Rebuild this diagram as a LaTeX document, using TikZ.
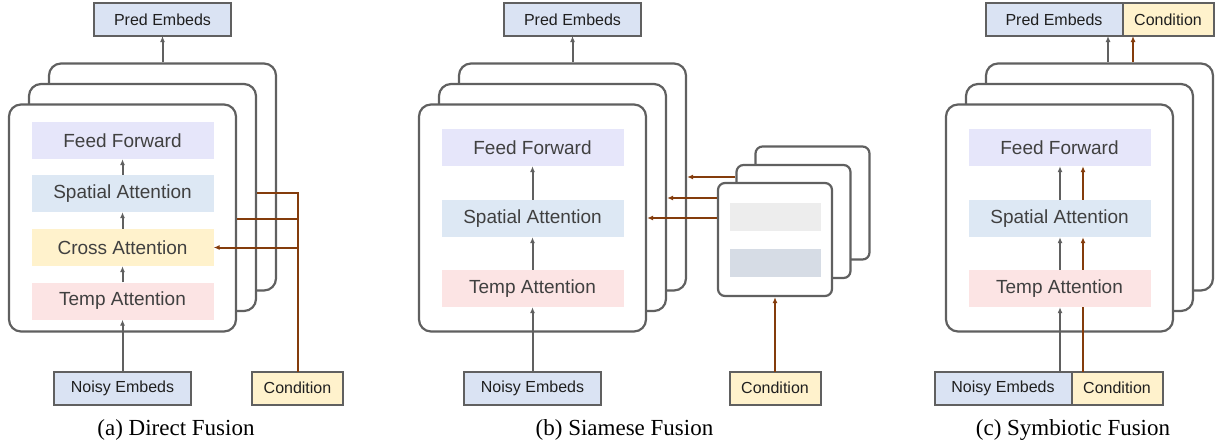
\documentclass[tikz,border=0pt]{standalone}
\usepackage{fontspec}
\setmainfont{Liberation Serif}
\newfontfamily\diagfont{Liberation Sans}
\usepackage{tikz}
\usetikzlibrary{arrows.meta, positioning}

\definecolor{linegray}{HTML}{606060}
\definecolor{condbrown}{HTML}{843C0C}
\definecolor{ffill}{HTML}{E6E6FA}
\definecolor{spfill}{HTML}{DDE8F4}
\definecolor{crfill}{HTML}{FFF2CC}
\definecolor{tpfill}{HTML}{FCE4E4}
\definecolor{embedfill}{HTML}{DAE3F3}
\definecolor{condfill}{HTML}{FFF2CC}
\definecolor{bargray}{HTML}{EDEDED}
\definecolor{barblue}{HTML}{D6DCE5}
\definecolor{blocktext}{HTML}{404040}
\definecolor{boxtext}{HTML}{1F1F1F}

\begin{document}
\begin{tikzpicture}[x=1pt, y=-1pt,
        >={Latex[length=6pt, width=5pt]},
        stacklayer/.style={draw=linegray, line width=2.2pt, fill=white, rounded corners=12pt, minimum width=227pt, minimum height=227pt, inner sep=0pt},
        smalllayer/.style={stacklayer, rounded corners=7pt, minimum width=114pt, minimum height=113pt},
        block/.style={minimum width=182pt, minimum height=37pt, inner sep=0pt, text=blocktext, font=\diagfont\fontsize{19}{21}\selectfont},
        bar/.style={minimum width=91pt, minimum height=28pt, inner sep=0pt},
        embedbox/.style={draw=linegray, line width=2pt, fill=embedfill, outer sep=0pt, minimum width=137pt, minimum height=33pt, inner sep=0pt, text=boxtext, font=\diagfont\fontsize{16}{18}\selectfont},
        condbox/.style={embedbox, fill=condfill, minimum width=91pt},
        flow/.style={->, draw=linegray, line width=2pt},
        condflow/.style={draw=condbrown, line width=2pt},
        subcap/.style={font=\fontsize{23}{25}\selectfont}]
        \useasboundingbox (0, 0) rectangle (1215, 442);

        \node[stacklayer] (a-back) at (162.5, 177) {};
        \node[stacklayer] (a-mid) at (142.5, 197.5) {};
        \node[stacklayer] (a-front) at (122.5, 218) {};
        \node[block, fill=ffill] (a-ff) at (122.5, 140.5) {Feed Forward};
        \node[block, fill=spfill] (a-sp) at (122.5, 193.5) {Spatial Attention};
        \node[block, fill=crfill] (a-cr) at (122.5, 247.5) {Cross Attention};
        \node[block, fill=tpfill] (a-tp) at (122.5, 301) {Temp Attention};
        \node[embedbox] (a-pred) at (162.5, 19.5) {Pred Embeds};
        \node[embedbox] (a-noisy) at (122.5, 388) {Noisy Embeds};
        \node[condbox] (a-cond) at (297.5, 388) {Condition};
        \coordinate (a-j1) at (297.5, 193);
        \coordinate (a-j2) at (297.5, 219);
        \coordinate (a-j3) at (297.5, 247.5);
        \draw[flow] (a-noisy) -- (a-tp);
        \draw[flow] (a-tp) -- (a-cr);
        \draw[flow] (a-cr) -- (a-sp);
        \draw[flow] (a-sp) -- (a-ff);
        \draw[flow] (a-back) -- (a-pred);
        \draw[condflow] (a-cond) -- (a-j1) -- (a-mid.east |- a-j1);
        \draw[condflow] (a-j2) -- (a-front.east |- a-j2);
        \draw[condflow, ->] (a-j3) -- (a-cr);
        \node[subcap] (a-cap) at (176, 430) {(a) Direct Fusion};

        \node[stacklayer] (b-back) at (572.5, 177) {};
        \node[stacklayer] (b-mid) at (552.5, 197.5) {};
        \node[stacklayer] (b-front) at (532.5, 218) {};
        \node[block, fill=ffill] (b-ff) at (532.5, 147.5) {Feed Forward};
        \node[block, fill=spfill] (b-sp) at (532.5, 218.5) {Spatial Attention};
        \node[block, fill=tpfill] (b-tp) at (532.5, 288.5) {Temp Attention};
        \node[embedbox] (b-pred) at (572.5, 19.5) {Pred Embeds};
        \node[embedbox] (b-noisy) at (532.5, 388) {Noisy Embeds};
        \node[condbox] (b-cond) at (775, 388) {Condition};
        \node[smalllayer] (b-sback) at (812.5, 203) {};
        \node[smalllayer] (b-smid) at (793.5, 221.5) {};
        \node[smalllayer] (b-sfront) at (775, 239.5) {};
        \node[bar, fill=bargray] (b-bar1) at (775, 217) {};
        \node[bar, fill=barblue] (b-bar2) at (775, 263) {};
        \draw[flow] (b-noisy) -- (b-tp);
        \draw[flow] (b-tp) -- (b-sp);
        \draw[flow] (b-sp) -- (b-ff);
        \draw[flow] (b-back) -- (b-pred);
        \draw[condflow, ->] (b-smid.west |- 0, 177) -- (b-back.east |- 0, 177);
        \draw[condflow, ->] (b-sfront.west |- 0, 198) -- (b-mid.east |- 0, 198);
        \draw[condflow, ->] (b-sfront.west |- 0, 218) -- (b-front.east |- 0, 218);
        \draw[condflow, ->] (b-cond) -- (b-sfront);
        \node[subcap] (b-cap) at (624.5, 430) {(b) Siamese Fusion};

        \node[stacklayer] (c-back) at (1099.5, 177) {};
        \node[stacklayer] (c-mid) at (1079.5, 197.5) {};
        \node[stacklayer] (c-front) at (1059.5, 218) {};
        \node[block, fill=ffill] (c-ff) at (1059.5, 147.5) {Feed Forward};
        \node[block, fill=spfill] (c-sp) at (1059.5, 218.5) {Spatial Attention};
        \node[block, fill=tpfill] (c-tp) at (1059.5, 288.5) {Temp Attention};
        \node[embedbox] (c-pred) at (1054, 19.5) {Pred Embeds};
        \node[condbox, right=0pt of c-pred] (c-ctop) {Condition};
        \node[embedbox] (c-noisy) at (1003, 388) {Noisy Embeds};
        \node[condbox, right=0pt of c-noisy] (c-cond) {Condition};
        \coordinate (c-gx) at (1060, 0);
        \coordinate (c-bx) at (1083, 0);
        \coordinate (c-gt) at (1108, 0);
        \coordinate (c-bt) at (1133, 0);
        \draw[flow] (c-gx |- c-noisy.north) -- (c-gx |- c-tp.south);
        \draw[flow] (c-gx |- c-tp.north) -- (c-gx |- c-sp.south);
        \draw[flow] (c-gx |- c-sp.north) -- (c-gx |- c-ff.south);
        \draw[condflow] (c-bx |- c-cond.north) -- (c-bx |- c-tp.south);
        \draw[condflow, ->] (c-bx |- c-tp.north) -- (c-bx |- c-sp.south);
        \draw[condflow, ->] (c-bx |- c-sp.north) -- (c-bx |- c-ff.south);
        \draw[flow] (c-gt |- c-back.north) -- (c-gt |- c-pred.south);
        \draw[condflow, ->] (c-bt |- c-back.north) -- (c-bt |- c-ctop.south);
        \node[subcap] (c-cap) at (1073, 430) {(c) Symbiotic Fusion};
\end{tikzpicture}
\end{document}
